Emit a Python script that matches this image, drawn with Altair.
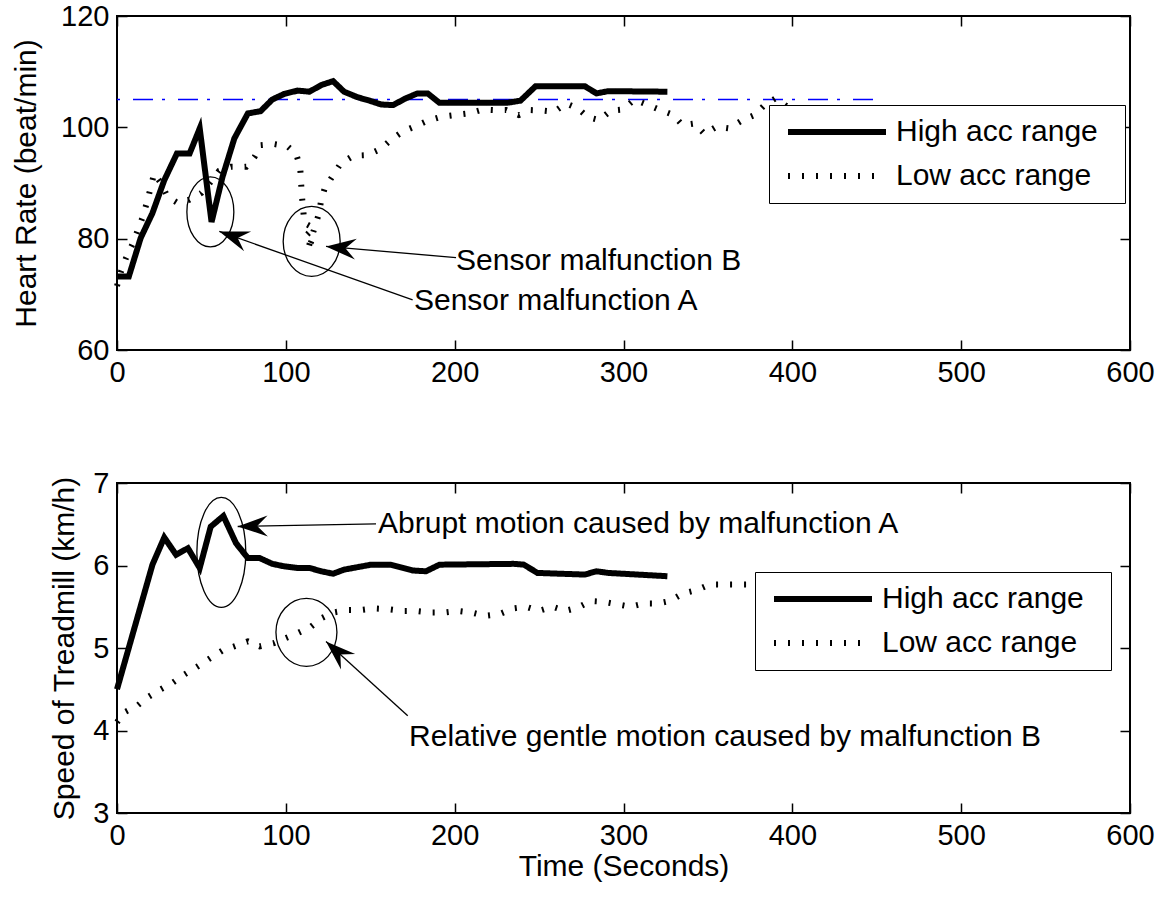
import altair as alt
import pandas as pd

FONT = "Liberation Sans"
SERIES = ["High acc range", "Low acc range"]

# ---------------- Heart rate panel data ----------------
hr_high_t = [0, 7, 14, 21, 28, 35.5, 43, 49, 56, 62.5, 69.5, 77.5, 85, 92, 99, 107, 114,
             121, 128, 134.5, 142.5, 149.5, 156.5, 163.5, 171, 178, 184, 191, 231, 239,
             248, 277, 284, 291, 326]
hr_high_v = [73.2, 73.2, 80.1, 84.6, 90.5, 95.3, 95.3, 99.8, 83.0, 91.1, 98.0, 102.5, 102.9,
             105.0, 106.0, 106.6, 106.4, 107.6, 108.3, 106.4, 105.4, 104.8, 104.1, 104.0,
             105.2, 106.1, 106.1, 104.4, 104.4, 104.8, 107.4, 107.4, 106.1, 106.5, 106.4]

hr_low_t = [0, 2.4, 5.3, 9, 12, 15, 18, 22, 26, 30, 36, 43, 50, 55, 60.5, 67.5, 76.5, 81.5,
            85, 93, 101, 106, 108.5, 109, 109.5, 111, 116.5, 111.5, 115.5, 113, 119.5, 121,
            123, 128, 132.5, 140, 148, 156, 162, 169, 176, 184, 192, 200, 208.5, 216.5, 223,
            230.5, 238, 245, 252.5, 259, 266, 273, 279, 285.5, 292.5, 299.5, 306.5, 313,
            321, 329, 335, 342, 348, 355, 362.5, 370.5, 377.5, 383.5, 390, 398]
hr_low_v = [71.5, 74.1, 76.5, 78.9, 81.3, 83.7, 86.8, 91.7, 90.0, 87.5, 86.4, 87.0, 88.2,
            90.0, 92.2, 92.9, 92.9, 94.7, 96.8, 97.0, 96.6, 95.3, 92.9, 90.2, 87.8, 82.8,
            81.9, 80.4, 79.8, 78.0, 84.4, 87.0, 89.0, 91.4, 93.5, 94.9, 95.0, 96.1, 97.7,
            99.2, 100.1, 101.2, 101.9, 102.2, 102.5, 103.2, 103.1, 103.1, 102.2, 103.1,
            103.0, 102.8, 104.3, 103.4, 101.8, 101.3, 103.0, 103.2, 105.0, 104.2, 103.2,
            102.3, 100.4, 100.7, 98.8, 100.1, 99.8, 101.3, 102.2, 104.0, 105.2, 103.5]

target_t = [0, 450]
target_hr = [105, 105]

# ---------------- Treadmill speed panel data ----------------
sp_high_t = [0, 21, 28, 35, 42, 49, 55.5, 63, 70.5, 77.5, 84.5, 92, 99, 107, 114, 121, 128,
             134.5, 142.5, 150.5, 162, 175, 183, 191, 235, 241, 249, 277, 284, 291, 326]
sp_high_v = [4.5, 6.01, 6.34, 6.13, 6.21, 5.97, 6.47, 6.60, 6.27, 6.09, 6.09, 6.02, 5.99,
             5.97, 5.97, 5.93, 5.90, 5.95, 5.98, 6.01, 6.01, 5.94, 5.93, 6.01, 6.02, 6.01,
             5.91, 5.89, 5.93, 5.91, 5.87]

sp_low_t = [0, 4.3, 12, 18, 26, 33, 40, 48, 55.5, 62.5, 69.5, 77.5, 84.5, 93, 100, 107, 115,
            121, 128, 136.5, 144.5, 152.5, 161, 169, 177, 186, 194, 202, 210, 218, 226.5,
            234.5, 242, 250, 258, 265.5, 273, 280.5, 288, 296, 304, 312.5, 320.5, 327.5,
            335, 343, 351, 359, 366.5, 374.5, 400]
sp_low_v = [4.1, 4.22, 4.30, 4.40, 4.50, 4.58, 4.68, 4.78, 4.88, 4.97, 5.02, 5.08, 5.02,
            5.06, 5.12, 5.18, 5.26, 5.36, 5.43, 5.46, 5.46, 5.48, 5.47, 5.45, 5.45, 5.43,
            5.43, 5.45, 5.43, 5.39, 5.41, 5.48, 5.50, 5.45, 5.50, 5.45, 5.49, 5.57, 5.56,
            5.53, 5.50, 5.54, 5.54, 5.57, 5.66, 5.70, 5.77, 5.77, 5.77, 5.77, 5.80]

# ---------------- Annotations ----------------
hr_text_t = [175.9, 200.8]
hr_text_v = [68.8, 76.0]
hr_text = ["Sensor malfunction A", "Sensor malfunction B"]
hr_arrow_tail_t = [175.1, 200.8]
hr_arrow_tail_v = [69.0, 76.6]
hr_arrow_tip_t = [60.6, 123.8]
hr_arrow_tip_v = [81.3, 78.6]
hr_ellipse_t = [55.3, 115.3]
hr_ellipse_v = [84.8, 79.5]

sp_text_t = [154.6, 173.0]
sp_text_v = [6.50, 3.92]
sp_text = ["Abrupt motion caused by malfunction A",
           "Relative gentle motion caused by malfunction B"]
sp_arrow_tail_t = [153.4, 172.2]
sp_arrow_tail_v = [6.505, 4.18]
sp_arrow_tip_t = [71.5, 123.8]
sp_arrow_tip_v = [6.473, 5.08]
sp_ellipse_t = [61.8, 112.2]
sp_ellipse_v = [6.16, 5.19]

x_ticks = [0, 100, 200, 300, 400, 500, 600]
hr_ticks = [60, 80, 100, 120]
sp_ticks = [3, 4, 5, 6, 7]

W = 1013
H_TOP = 334
H_BOT = 330


def series_df(ht, hv, lt, lv):
    rows = []
    for i, (t, v) in enumerate(zip(ht, hv)):
        rows.append({"t": t, "v": v, "s": SERIES[0], "i": i})
    for i, (t, v) in enumerate(zip(lt, lv)):
        rows.append({"t": t, "v": v, "s": SERIES[1], "i": i})
    return pd.DataFrame(rows)


def ellipse_path(w, h):
    m = max(w, h)
    rx, ry = w / m, h / m
    return (f"M{-rx:.3f},0 A{rx:.3f},{ry:.3f} 0 1,0 {rx:.3f},0 "
            f"A{rx:.3f},{ry:.3f} 0 1,0 {-rx:.3f},0 Z"), m * m


ARROW = "M0,0 L-2,-0.7 L-1.3,0 L-2,0.7 Z"


def panel(df, ydomain, yticks, ytitle, height, xtitle, title_pad,
          legend_xy, texts, arrows, ellipses, arrow_angles, target=None):
    xs = alt.Scale(domain=[0, 600], nice=False, zero=False)
    ys = alt.Scale(domain=ydomain, nice=False, zero=False)
    common_axis = dict(domain=False, grid=False, tickSize=10, offset=-10, tickWidth=1.5,
                       tickColor="black", labelColor="black", labelFont=FONT,
                       labelFontSize=29, titleFont=FONT, titleFontSize=30,
                       titleFontWeight="normal", titleColor="black", labelPadding=8)
    xaxis = alt.Axis(orient="bottom", values=x_ticks, title=xtitle, titlePadding=1,
                     labelFlush=False, **common_axis)
    yaxis = alt.Axis(orient="left", values=yticks, title=ytitle, titlePadding=title_pad,
                     **common_axis)

    def X():
        return alt.X("t:Q", scale=xs, axis=xaxis)

    def Y():
        return alt.Y("v:Q", scale=ys, axis=yaxis)

    lines = alt.Chart(df).mark_line(color="black", strokeWidth=6, strokeCap="butt").encode(
        x=X(), y=Y(),
        strokeDash=alt.StrokeDash(
            "s:N",
            scale=alt.Scale(domain=SERIES, range=[[1, 0], [2, 12]]),
            legend=alt.Legend(title=None, orient="none", legendX=legend_xy[0],
                              legendY=legend_xy[1], symbolType="stroke",
                              symbolSize=98 * 98, symbolStrokeWidth=6,
                              symbolStrokeColor="black", symbolOffset=6,
                              labelFont=FONT, labelFontSize=30, labelColor="black",
                              labelOffset=7, labelLimit=400,
                              labelExpr="datum.label + '\u00a0\u00a0\u200b'",
                              padding=10, strokeColor="black",
                              fillColor="white", clipHeight=34, rowPadding=10)),
        order="i:Q",
    )

    layers = []
    if target is not None:
        tdf = pd.DataFrame({"t": target[0], "v": target[1]})
        layers.append(alt.Chart(tdf).mark_line(color="#0000ff", strokeWidth=1.5,
                                               strokeDash=[20, 9, 3, 13],
                                               strokeDashOffset=29).encode(x=X(), y=Y()))
    layers.append(lines)

    tt, tv, tl = texts
    tdf = pd.DataFrame({"t": tt, "v": tv, "label": tl})
    layers.append(alt.Chart(tdf).mark_text(align="left", baseline="middle", font=FONT,
                                           fontSize=30, color="black").encode(
        x=X(), y=Y(), text="label:N"))

    a_t, a_v, b_t, b_v = arrows
    adf = pd.DataFrame({"t": a_t, "v": a_v, "t2": b_t, "v2": b_v})
    layers.append(alt.Chart(adf).mark_rule(color="black", strokeWidth=1.3).encode(
        x=X(), y=Y(), x2="t2:Q", y2="v2:Q"))
    for k in range(len(b_t)):
        hdf = pd.DataFrame({"t": [b_t[k]], "v": [b_v[k]]})
        layers.append(alt.Chart(hdf).mark_point(shape=ARROW, size=900, filled=True,
                                                color="black", opacity=1,
                                                angle=arrow_angles[k]).encode(x=X(), y=Y()))

    e_t, e_v, e_dims = ellipses
    for k in range(len(e_t)):
        path, size = ellipse_path(*e_dims[k])
        edf = pd.DataFrame({"t": [e_t[k]], "v": [e_v[k]]})
        layers.append(alt.Chart(edf).mark_point(shape=path, size=size, filled=False,
                                                stroke="black", strokeWidth=1.3,
                                                opacity=1).encode(x=X(), y=Y()))

    inner = alt.layer(*layers)

    mirror = alt.Chart(df).mark_line(opacity=0).encode(
        x=alt.X("t:Q", scale=xs, axis=alt.Axis(orient="top", values=x_ticks, labels=False,
                                                title=None, domain=False, grid=False,
                                                tickSize=10, offset=-10, tickWidth=1.5,
                                                tickColor="black")),
        y=alt.Y("v:Q", scale=ys, axis=alt.Axis(orient="right", values=yticks, labels=False,
                                                title=None, domain=False, grid=False,
                                                tickSize=10, offset=-10, tickWidth=1.5,
                                                tickColor="black")),
        detail="s:N",
    )

    return alt.layer(inner, mirror).properties(width=W, height=height)


top = panel(series_df(hr_high_t, hr_high_v, hr_low_t, hr_low_v), [60, 120], hr_ticks,
            "Heart Rate (beat/min)", H_TOP, None, 19, (652, 89),
            (hr_text_t, hr_text_v, hr_text),
            (hr_arrow_tail_t, hr_arrow_tail_v, hr_arrow_tip_t, hr_arrow_tip_v),
            (hr_ellipse_t, hr_ellipse_v, [(47, 70), (57, 70)]),
            [199.5, 185.1], target=(target_t, target_hr))

bottom = panel(series_df(sp_high_t, sp_high_v, sp_low_t, sp_low_v), [3, 7], sp_ticks,
               "Speed of Treadmill (km/h)", H_BOT, "Time (Seconds)", 13, (638, 89),
               (sp_text_t, sp_text_v, sp_text),
               (sp_arrow_tail_t, sp_arrow_tail_v, sp_arrow_tip_t, sp_arrow_tip_v),
               (sp_ellipse_t, sp_ellipse_v, [(49, 110), (61, 68)]),
               [178.9, 222.6])

chart = alt.vconcat(top, bottom, spacing=80).resolve_scale(strokeDash="independent").properties(
    padding={"left": 10, "top": 1, "right": 5, "bottom": 5},
    background="white",
).configure_view(stroke="black", strokeWidth=2)

chart.save("out.html", embed_options={"renderer": "svg", "actions": False})
